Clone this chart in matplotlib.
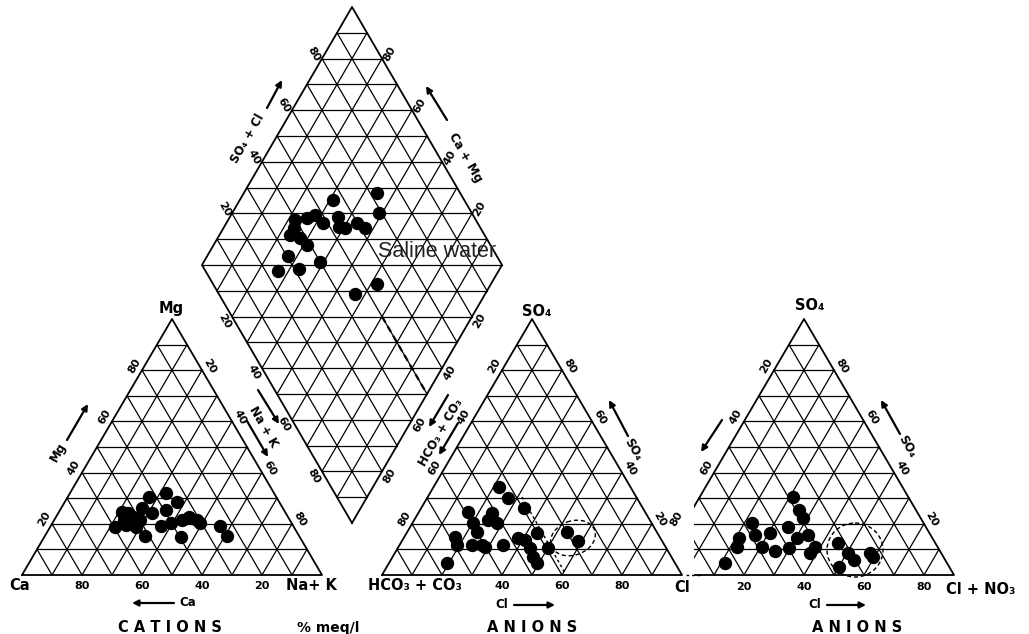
import matplotlib
matplotlib.use("Agg")
import matplotlib.pyplot as plt
import numpy as np
from matplotlib.patches import Rectangle, Ellipse

# ---------------- data (percent meq/l) ----------------
cat_mg  = [30.4, 32.1, 28.4, 26.1, 24.3, 25.4, 24.3, 21.5, 20.2, 21.5, 18.6, 19.5, 15.2,
           19.3, 20.4, 21.5, 22.5, 21.5, 20.2, 14.7, 19.1, 15.2, 18.9, 22.8, 24.6]
cat_nak = [27.2, 31.8, 37.6, 26.9, 31.1, 35.2, 23.3, 23.4, 26.5, 28.6, 21.7, 24.9, 33.4,
           36.6, 39.4, 42.5, 44.4, 47.5, 49.2, 45.6, 56.4, 60.8, 28.6, 25.7, 21.0]

an_so4 = [34.3, 30.0, 26.1, 24.7, 20.2, 24.3, 21.5, 20.2, 15.0, 11.7, 11.7, 11.7, 11.1,
          11.7, 16.9, 14.3, 13.7, 10.4, 16.3, 10.4, 7.1, 4.6, 4.6, 16.9, 13.4]
an_cl  = [21.9, 27.1, 34.4, 16.4, 20.3, 24.4, 24.7, 28.1, 16.9, 19.2, 24.0, 27.4, 28.8,
          34.4, 23.1, 38.3, 40.8, 44.1, 43.4, 50.2, 46.9, 49.5, 19.5, 53.1, 58.7]

an2_so4 = [30.6, 25.4, 22.1, 20.2, 14.3, 11.1, 15.6, 11.1, 16.3, 9.5, 18.6, 14.3, 10.4,
           15.6, 11.1, 8.5, 4.6, 12.4, 8.5, 5.9, 8.5, 7.1, 3.2]
an2_cl  = [30.9, 35.6, 38.7, 22.5, 21.3, 22.0, 25.9, 30.4, 30.5, 35.6, 35.5, 40.4, 39.8,
           43.6, 48.1, 47.8, 21.4, 55.2, 60.5, 63.7, 67.8, 69.5, 60.1]

dia_so4cl = [72.3, 56.2, 69.1, 39.7, 43.9, 47.4, 48.5, 54.8, 53.2, 54.8, 59.7, 61.5, 35.2,
             37.8, 38.8, 30.4, 40.0, 24.3, 31.5, 54.5, 45.3, 37.9]
dia_camg  = [55.8, 69.0, 50.9, 77.7, 74.2, 72.0, 67.7, 63.9, 61.7, 59.5, 56.5, 52.8, 76.5,
             72.5, 69.0, 72.9, 61.3, 73.5, 66.8, 38.0, 43.3, 76.4]

# dashed boundary in the diamond (SO4+Cl = 50 %, Ca+Mg from 30 % to 0 %)
bound_so4cl = [50, 50]
bound_camg = [30, 0]

tick_values = [20, 40, 60, 80]

# ---------------- geometry (pixel layout) ----------------
W, H = 1029, 634
SIDE = 300.0
TRI_H = 256.0
CAT_O = (22.0, 575.0)
AN_O = (382.0, 575.0)
AN2_O = (654.0, 575.0)
DIA_B = (352.0, 523.0)
DIA_HH = 258.0

fig = plt.figure(figsize=(W / 100, H / 100), dpi=100)
ax = fig.add_axes([0, 0, 1, 1])
ax.set_xlim(0, W)
ax.set_ylim(H, 0)
ax.axis("off")

BOLD = dict(family="DejaVu Sans", fontweight="bold", color="black")


def tri(o, r, t):
    r = np.asarray(r, float)
    t = np.asarray(t, float)
    return o[0] + SIDE * r + SIDE / 2 * t, o[1] - TRI_H * t


def dia(a, b):
    a = np.asarray(a, float)
    b = np.asarray(b, float)
    return DIA_B[0] + SIDE / 2 * (a - b), DIA_B[1] - DIA_HH * (a + b)


def draw_tri(o, clip=None):
    arts = []
    for i in range(1, 10):
        f = i / 10
        for (r0, t0, r1, t1) in [(0, f, 1 - f, f), (f, 0, f, 1 - f), (1 - f, 0, 0, 1 - f)]:
            x, y = tri(o, [r0, r1], [t0, t1])
            arts += ax.plot(x, y, color="black", lw=0.9)
    x, y = tri(o, [0, 1, 0, 0], [0, 0, 1, 0])
    arts += ax.plot(x, y, color="black", lw=1.3)
    if clip is not None:
        for a in arts:
            a.set_clip_path(clip)


def draw_dia():
    for i in range(1, 10):
        f = i / 10
        x, y = dia([f, f], [0, 1])
        ax.plot(x, y, color="black", lw=0.9)
        x, y = dia([0, 1], [f, f])
        ax.plot(x, y, color="black", lw=0.9)
    # horizontal lattice lines
    for k in range(1, 20):
        s = k / 10
        lo = max(0.0, s - 1)
        hi = min(1.0, s)
        x, y = dia([lo, hi], [s - lo, s - hi])
        ax.plot(x, y, color="black", lw=0.9)
    x, y = dia([0, 1, 1, 0, 0], [0, 0, 1, 1, 0])
    ax.plot(x, y, color="black", lw=1.3)


def txt(x, y, s, size=8, rot=0, clip=None, **kw):
    d = dict(BOLD)
    d.update(kw)
    t = ax.text(x, y, s, fontsize=size, rotation=rot, ha="center", va="center",
                rotation_mode="anchor", **d)
    if clip is not None:
        t.set_clip_path(clip)
    return t


def arrow(x0, y0, x1, y1):
    ax.annotate("", xy=(x1, y1), xytext=(x0, y0),
                arrowprops=dict(arrowstyle="-|>", color="black", lw=1.6,
                                mutation_scale=9, shrinkA=0, shrinkB=0))


# clip for the third (partially covered) triangle
clip3 = Rectangle((694, 0), W - 694, H, transform=ax.transData)

draw_tri(CAT_O)
draw_tri(AN_O)
draw_tri(AN2_O, clip=clip3)
draw_dia()

OUT_L = np.array([-0.866, -0.5])
OUT_R = np.array([0.866, -0.5])
OUT_DL = np.array([-0.866, 0.5])
OUT_DR = np.array([0.866, 0.5])
off = 9

# ---- cation triangle labels ----
for v in tick_values:
    x, y = tri(CAT_O, 1 - v / 100, 0)
    txt(x, y + 11, str(v))
    x, y = tri(CAT_O, 0, v / 100)
    txt(x + OUT_L[0] * off, y + OUT_L[1] * off, str(v), rot=60)
    x, y = tri(CAT_O, v / 100, 1 - v / 100)
    txt(x + OUT_R[0] * off, y + OUT_R[1] * off, str(v), rot=-60)

# ---- anion triangle labels ----
for v in tick_values:
    if v != 20:
        x, y = tri(AN_O, v / 100, 0)
        txt(x, y + 11, str(v))
    x, y = tri(AN_O, 0, 1 - v / 100)
    txt(x + OUT_L[0] * off, y + OUT_L[1] * off, str(v), rot=60)
    x, y = tri(AN_O, 1 - v / 100, v / 100)
    txt(x + OUT_R[0] * off, y + OUT_R[1] * off, str(v), rot=-60)

# ---- third triangle labels ----
for v in tick_values:
    x, y = tri(AN2_O, v / 100 + 0.1, 0)
    txt(x, y + 12, str(v))
    x, y = tri(AN2_O, 0, 1 - v / 100)
    txt(x + OUT_L[0] * off, y + OUT_L[1] * off, str(v), rot=60, clip=clip3)
    x, y = tri(AN2_O, 1 - v / 100, v / 100)
    txt(x + OUT_R[0] * off, y + OUT_R[1] * off, str(v), rot=-60)

# ---- diamond labels ----
for v in tick_values:
    x, y = dia(v / 100, 1)            # upper-left edge (SO4+Cl)
    txt(x + OUT_L[0] * off, y + OUT_L[1] * off, str(v), rot=-60)
    x, y = dia(1, v / 100)            # upper-right edge (Ca+Mg)
    txt(x + OUT_R[0] * off, y + OUT_R[1] * off, str(v), rot=60)
    x, y = dia(0, 1 - v / 100)        # lower-left edge
    txt(x + OUT_DL[0] * off, y + OUT_DL[1] * off, str(v), rot=-60)
    x, y = dia(1 - v / 100, 0)        # lower-right edge
    txt(x + OUT_DR[0] * off, y + OUT_DR[1] * off, str(v), rot=60)

# ---- names ----
txt(171, 309, "Mg", size=10.5)
txt(20, 586, "Ca", size=10.5)
txt(311, 586, "Na+ K", size=10.5)
txt(537, 311, "SO₄", size=10.5)
txt(415, 586, "HCO₃ + CO₃", size=10.5)
txt(682, 588, "Cl", size=10.5)
txt(810, 305, "SO₄", size=10.5)
txt(981, 590, "Cl + NO₃", size=10.5)

txt(170, 627, "C A T I O N S", size=10.5)
txt(532, 627, "A N I O N S", size=10.5)
txt(857, 627, "A N I O N S", size=10.5)
txt(328, 628, "% meq/l", size=10)

# axis captions with arrows
txt(58, 452, "Mg", size=8.5, rot=60)
arrow(67, 440, 88, 404)
txt(263, 427, "Na + K", size=8.5, rot=-60)
arrow(258, 390, 279, 424)
arrow(247, 421, 268, 457)
txt(188, 603, "Ca", size=8.5)
arrow(174, 603, 132, 603)

txt(248, 139, "SO₄ + Cl", size=8.5, rot=60)
arrow(267, 108, 282, 80)
txt(465, 158, "Ca + Mg", size=8.5, rot=-60)
arrow(447, 120, 426, 86)
txt(441, 432, "HCO₃ + CO₃", size=8.5, rot=60)
arrow(448, 395, 429, 427)
arrow(458, 423, 439, 455)

txt(633, 450, "SO₄", size=8.5, rot=-60)
arrow(628, 436, 609, 400)
txt(502, 605, "Cl", size=8.5)
arrow(514, 605, 555, 605)

txt(907, 447, "SO₄", size=8.5, rot=-60)
arrow(900, 434, 881, 400)
arrow(722, 420, 701, 452)
txt(815, 605, "Cl", size=8.5)
arrow(827, 605, 866, 605)

# ---- dashed grouping marks ----
x, y = dia(np.array(bound_so4cl) / 100, np.array(bound_camg) / 100)
ax.plot(x, y, color="black", lw=1.6, ls=(0, (3, 2)))
ax.plot([522, 565], [497, 573], color="black", lw=1.0, ls=(0, (2, 2)))
ax.add_patch(Ellipse((573, 538), 46, 34, angle=-20, fill=False, ec="black",
                     lw=1.0, ls=(0, (3, 2))))
ax.add_patch(Ellipse((855, 550), 56, 54, angle=0, fill=False, ec="black",
                     lw=1.0, ls=(0, (3, 2))))
ax.plot([686, 700], [575, 575], color="black", lw=1.0, ls=(0, (2, 2)))

# ---- data points ----
ms = 8.6
x, y = tri(CAT_O, np.array(cat_nak) / 100, np.array(cat_mg) / 100)
ax.plot(x, y, "o", color="black", ms=ms)
x, y = tri(AN_O, np.array(an_cl) / 100, np.array(an_so4) / 100)
ax.plot(x, y, "o", color="black", ms=ms)
x, y = tri(AN2_O, np.array(an2_cl) / 100, np.array(an2_so4) / 100)
ax.plot(x, y, "o", color="black", ms=ms)
x, y = dia(np.array(dia_so4cl) / 100, np.array(dia_camg) / 100)
ax.plot(x, y, "o", color="black", ms=ms)

# saline water label (clipped at the diamond edge)
clip_s = Rectangle((0, 0), 492, H, transform=ax.transData)
t = ax.text(378, 257, "Saline water", fontsize=15.5, family="Liberation Sans",
            color="#222222", ha="left", va="baseline")
t.set_clip_path(clip_s)

fig.savefig("out.png", dpi=100)
